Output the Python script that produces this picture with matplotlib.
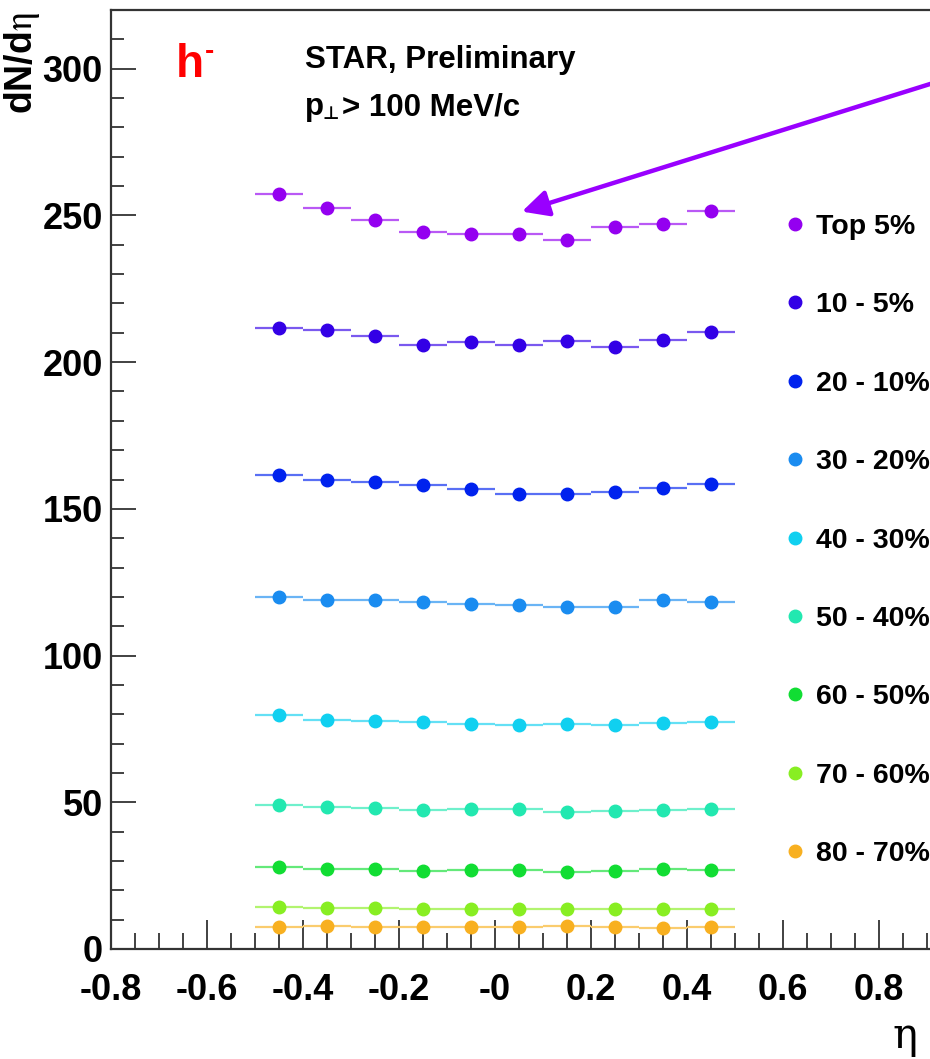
import matplotlib
matplotlib.use("Agg")
import matplotlib.pyplot as plt
from matplotlib.ticker import MultipleLocator, FixedLocator, FixedFormatter
from matplotlib.lines import Line2D
import numpy as np

# ---------------- data ----------------
eta_centers = [-0.45, -0.35, -0.25, -0.15, -0.05, 0.05, 0.15, 0.25, 0.35, 0.45]
eta_halfwidth = 0.05

labels = ["Top 5%", "10 - 5%", "20 - 10%", "30 - 20%", "40 - 30%",
          "50 - 40%", "60 - 50%", "70 - 60%", "80 - 70%"]

top5   = [257.4, 252.5, 248.3, 244.2, 243.8, 243.8, 241.7, 245.9, 247.2, 251.4]
c10_5  = [211.6, 210.8, 209.0, 205.9, 206.7, 205.7, 207.1, 205.0, 207.6, 210.2]
c20_10 = [161.4, 159.7, 159.1, 158.0, 156.7, 155.1, 155.1, 155.9, 157.0, 158.4]
c30_20 = [119.9, 119.0, 118.8, 118.3, 117.5, 117.2, 116.4, 116.4, 118.9, 118.4]
c40_30 = [79.7, 77.9, 77.8, 77.3, 76.7, 76.2, 76.6, 76.2, 77.1, 77.5]
c50_40 = [49.0, 48.5, 48.1, 47.4, 47.7, 47.6, 46.6, 47.0, 47.4, 47.8]
c60_50 = [28.1, 27.2, 27.2, 26.7, 27.0, 27.0, 26.3, 26.7, 27.2, 27.0]
c70_60 = [14.2, 14.0, 14.0, 13.7, 13.7, 13.7, 13.5, 13.7, 13.7, 13.7]
c80_70 = [7.6, 7.8, 7.6, 7.4, 7.4, 7.6, 7.8, 7.4, 7.2, 7.6]

series = [top5, c10_5, c20_10, c30_20, c40_30, c50_40, c60_50, c70_60, c80_70]
colors = ["#9400f0", "#3300e6", "#0022ee", "#1a8cf0", "#10d0f0",
          "#22e8b0", "#11dd33", "#88ee22", "#f8b020"]

x_ticks = [-0.8, -0.6, -0.4, -0.2, 0.0, 0.2, 0.4, 0.6, 0.8]
x_tick_labels = ["-0.8", "-0.6", "-0.4", "-0.2", "-0", "0.2", "0.4", "0.6", "0.8"]
y_ticks = [0, 50, 100, 150, 200, 250, 300]
y_tick_labels = ["0", "50", "100", "150", "200", "250", "300"]

arrow_tip = (0.056, 251.3)
arrow_tail = (0.93, 296.0)

# ---------------- figure ----------------
W, H = 930, 1059
fig = plt.figure(figsize=(W / 100, H / 100), dpi=100)
fig.patch.set_facecolor("white")

ax_left, ax_right, ax_bottom, ax_top = 111, 930, 949, 10
ax = fig.add_axes([ax_left / W, 1 - ax_bottom / H, (ax_right - ax_left) / W,
                   (ax_bottom - ax_top) / H])
ax.set_xlim(-0.8, 0.906)
ax.set_ylim(0, 320)

tickfont = ["Liberation Sans", "DejaVu Sans"]
textfont = ["Liberation Sans", "DejaVu Sans"]


def lighten(c, f):
    rgb = np.array(matplotlib.colors.to_rgb(c))
    return tuple(rgb + (1 - rgb) * f)


for vals, col in zip(series, colors):
    ax.errorbar(eta_centers, vals, xerr=eta_halfwidth, fmt="o", ms=9,
                mfc=col, mec=col, ecolor=lighten(col, 0.35), elinewidth=1.6,
                capsize=0, zorder=3)

# arrow
ax.annotate("", xy=arrow_tip, xytext=arrow_tail,
            arrowprops=dict(arrowstyle="-|>", color="#9900ff", lw=3.2,
                            mutation_scale=40, shrinkA=0, shrinkB=0),
            annotation_clip=False, zorder=5)

# spines
for s in ["left", "bottom", "top"]:
    ax.spines[s].set_linewidth(1.6)
    ax.spines[s].set_color("#333333")
ax.spines["right"].set_visible(False)

# ticks
ax.xaxis.set_major_locator(FixedLocator(x_ticks))
ax.xaxis.set_major_formatter(FixedFormatter(x_tick_labels))
ax.xaxis.set_minor_locator(MultipleLocator(0.05))
ax.yaxis.set_major_locator(FixedLocator(y_ticks))
ax.yaxis.set_major_formatter(FixedFormatter(y_tick_labels))
ax.yaxis.set_minor_locator(MultipleLocator(10))

ax.tick_params(axis="x", which="major", direction="in", length=21, width=1.3,
               color="#333333", top=False, pad=17)
ax.tick_params(axis="x", which="minor", direction="in", length=11.5, width=1.3,
               color="#333333", top=False)
ax.tick_params(axis="y", which="major", direction="in", length=18, width=1.3,
               color="#333333", right=False, pad=6)
ax.tick_params(axis="y", which="minor", direction="in", length=9.5, width=1.3,
               color="#333333", right=False)
for lab in ax.get_xticklabels() + ax.get_yticklabels():
    lab.set_fontfamily(tickfont)
    lab.set_fontweight("bold")
    lab.set_fontsize(26)

# texts
fig.text(176 / W, 1 - 77 / H, "h", color="red", fontsize=33, fontweight="bold",
         family=textfont, ha="left", va="baseline")
fig.text(205 / W, 1 - 52 / H, "-", color="red", fontsize=20, fontweight="bold",
         family=textfont, ha="left", va="center")

fig.text(305 / W, 1 - 68 / H, "STAR, Preliminary", fontsize=22.5, fontweight="bold",
         family=textfont, ha="left", va="baseline")
fig.text(305 / W, 1 - 115 / H, "p", fontsize=22.5, fontweight="bold",
         family=textfont, ha="left", va="baseline")
fig.text(323 / W, 1 - 119 / H, "\u22a5", fontsize=13, fontweight="bold",
         family=["DejaVu Sans"], ha="left", va="baseline")
fig.text(342 / W, 1 - 115 / H, "> 100 MeV/c", fontsize=22.5, fontweight="bold",
         family=textfont, ha="left", va="baseline")

plt.rcParams["mathtext.fontset"] = "stix"
fig.text(22 / W, 1 - 12 / H, r"dN/d$\mathrm{\eta}$", fontsize=27, fontweight="bold",
         family=textfont, rotation=90, ha="center", va="top")
fig.text(905 / W, 1 - 1048 / H, "η", fontsize=30, family=["DejaVu Serif"],
         ha="center", va="baseline")

# legend
handles = [Line2D([], [], ls="none", marker="o", ms=9, mfc=c, mec=c) for c in colors]
leg = ax.legend(handles, labels, loc="upper left",
                bbox_to_anchor=(786 / W, 1 - 214 / H), bbox_transform=fig.transFigure,
                frameon=False, handlelength=0.6, handletextpad=0.45,
                labelspacing=1.84, borderpad=0, borderaxespad=0,
                prop=dict(family=textfont, weight="bold", size=20.5))

fig.savefig("out.png", dpi=100)
